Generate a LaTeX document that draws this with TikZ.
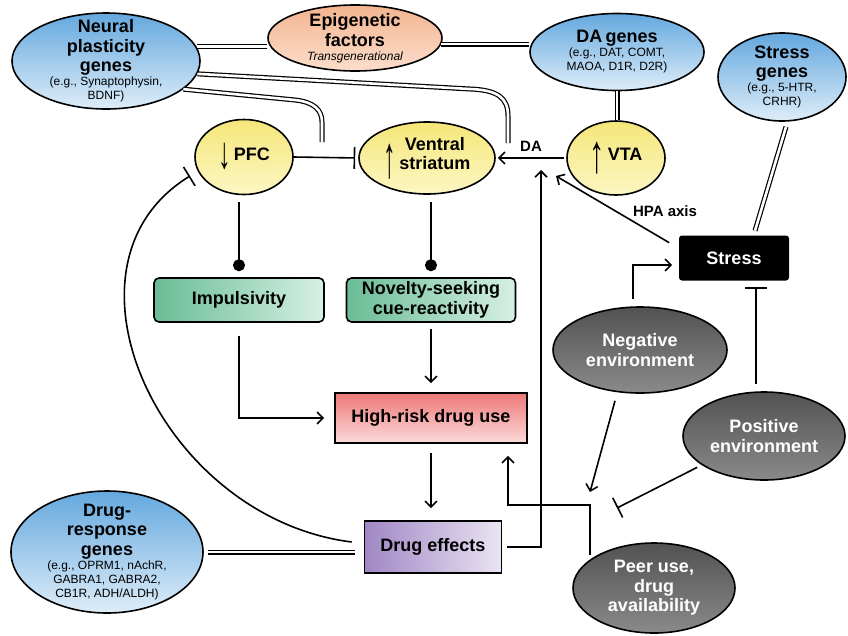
\documentclass[tikz,border=0pt]{standalone}
\usepackage{fontspec}
\usepackage{graphicx}
\setmainfont{Liberation Sans}
\usetikzlibrary{arrows.meta,shapes.geometric}

\newcommand{\titlefont}{\fontsize{18}{19.5}\selectfont\bfseries}
\newcommand{\examplefont}{\fontsize{12}{14}\selectfont\mdseries}
\newcommand{\labelfont}{\fontsize{15}{17}\selectfont\bfseries}
% tall thin arrow: glyph, horizontal scale, vertical scale, drop
\newcommand{\thinarrow}[4]{\raisebox{-#4}{\scalebox{#2}[#3]{\mdseries #1}}}

\definecolor{geneDark}{RGB}{100,168,222}
\definecolor{geneLight}{RGB}{222,237,249}
\definecolor{epiDark}{RGB}{243,180,144}
\definecolor{epiLight}{RGB}{252,222,204}
\definecolor{brainDark}{RGB}{245,230,120}
\definecolor{brainLight}{RGB}{252,247,196}
\definecolor{traitDark}{RGB}{105,188,150}
\definecolor{traitLight}{RGB}{214,240,228}
\definecolor{riskDark}{RGB}{238,120,120}
\definecolor{riskLight}{RGB}{252,218,218}
\definecolor{effDark}{RGB}{160,135,196}
\definecolor{effLight}{RGB}{234,228,243}
\definecolor{envDark}{RGB}{82,82,82}
\definecolor{envLight}{RGB}{138,138,138}

\begin{document}
\begin{tikzpicture}[x=1pt, y=-1pt, line width=1.6pt,
  gene/.style={ellipse, draw, line width=1.6pt, top color=geneDark, bottom color=geneLight,
    inner sep=-25pt, text width=140pt, align=center},
  brain/.style={ellipse, draw, line width=1.6pt, top color=brainDark, bottom color=brainLight,
    inner sep=0pt, font=\titlefont},
  trait/.style={draw, rounded corners=5pt, left color=traitDark, right color=traitLight,
    minimum width=170pt, minimum height=44pt, font=\titlefont, align=center},
  envir/.style={ellipse, draw, line width=1.6pt, top color=envDark, bottom color=envLight,
    text=white, font=\titlefont, align=center, inner sep=0pt},
  dbl/.style={double, double distance=2.6pt, line width=1.2pt},
  act/.style={-{Straight Barb[length=6pt,width=12pt]}},
  inh/.style={-{Bar[width=22pt]}},
  dotend/.style={-{Circle[length=12pt]}},
  lbl/.style={font=\labelfont, inner sep=1pt}]
  \useasboundingbox (0,0) rectangle (848,635);

  % genes
  \node[gene, minimum width=188pt, minimum height=96pt] (neural) at (106,61)
    {{\titlefont Neural\\plasticity\\genes\par}{\examplefont (e.g., Synaptophysin,\\BDNF)\par}};
  \node[gene, top color=epiDark, bottom color=epiLight, minimum width=174pt, minimum height=66pt] (epi) at (355,38)
    {{\titlefont Epigenetic\\factors\par}{\examplefont\itshape Transgenerational\par}};
  \node[gene, minimum width=174pt, minimum height=77pt] (dagenes) at (617,52)
    {{\titlefont DA genes\par}{\examplefont (e.g., DAT, COMT,\\MAOA, D1R, D2R)\par}};
  \node[gene, text width=110pt, minimum width=128pt, minimum height=88pt] (stressg) at (782,77)
    {{\titlefont Stress\\genes\par}{\examplefont (e.g., 5-HTR,\\CRHR)\par}};
  \node[gene, minimum width=192pt, minimum height=122pt] (drugresp) at (107,552)
    {{\titlefont Drug-\\response\\genes\par}{\examplefont (e.g., OPRM1, nAchR,\\GABRA1, GABRA2,\\CB1R, ADH/ALDH)\par}};

  % brain regions
  \node[brain, minimum width=98pt, minimum height=75pt] (pfc) at (244,157)
    {\thinarrow{↓}{1.4}{2.5}{8pt}\,PFC};
  \node[brain, minimum width=136pt, minimum height=72pt] (vs) at (427,158)
    {\thinarrow{↑}{1.4}{3.3}{17pt}\,\begin{tabular}{@{}c@{}}Ventral\\striatum\end{tabular}};
  \node[brain, minimum width=98pt, minimum height=74pt] (vta) at (616,158)
    {\thinarrow{↑}{1.7}{3.0}{12pt}\,VTA};

  % traits and use
  \node[trait] (impuls) at (239,300) {Impulsivity};
  \node[trait, minimum width=169pt] (novelty) at (431,300) {Novelty-seeking\\cue-reactivity};
  \node[draw, top color=riskDark, bottom color=riskLight, minimum width=192pt, minimum height=50pt,
    font=\titlefont] (risk) at (431,418) {High-risk drug use};
  \node[draw, left color=effDark, right color=effLight, minimum width=137pt, minimum height=52pt,
    font=\titlefont] (drugeff) at (433,547) {Drug effects};

  % environment
  \node[fill=black, rounded corners=3pt, minimum width=110pt, minimum height=45pt, text=white,
    font=\titlefont] (stress) at (734,258) {Stress};
  \node[envir, minimum width=174pt, minimum height=86pt] (neg) at (640,350) {Negative\\environment};
  \node[envir, minimum width=162pt, minimum height=88pt] (pos) at (764,436) {Positive\\environment};
  \node[envir, minimum width=162pt, minimum height=90pt] (peer) at (654,588) {Peer use,\\drug\\availability};

  \coordinate (vsgene) at (508,143);
  \coordinate (pfcgene) at (322,142);
  \coordinate (vsentry) at (541,170);
  \coordinate (hpaend) at (556,176);
  \coordinate (junction) at (590,492);
  \coordinate (posbar) at (617,508);
  \coordinate (peertop) at (590,555);
  \coordinate (pfcbar) at (190,176);

  % gene links
  \draw[dbl] (neural.9) -- (neural.9 -| epi.west);
  \draw[dbl] (epi.-4) -- (epi.-4 -| dagenes.west);
  \draw[dbl] (dagenes.south) -- (dagenes.south |- vta.north);
  \draw[dbl] ([xshift=4pt,yshift=-5pt]stressg.south) -- ([xshift=21pt,yshift=4pt]stress.north);
  \draw[dbl, shorten <=4pt, shorten >=9pt] (drugresp.east) -- (drugresp.east -| drugeff.west);
  \draw[dbl] (neural.-8) -- (470,89) .. controls (498,90) and (508,98) .. (508,116) -- (vsgene);
  \draw[dbl] (neural.-20) -- (295,100) .. controls (314,102) and (322,110) .. (322,122) -- (pfcgene);

  % circuit
  \draw[inh, shorten >=3pt] (pfc.east) -- (vs.west);
  \draw[act, shorten <=2pt, shorten >=2pt] (vta.west) -- (vs.east) node[midway, above=5pt, lbl] {DA};
  \draw[dotend, shorten <=7pt, shorten >=6pt] (impuls.north |- pfc.south) -- (impuls.north);
  \draw[dotend, shorten <=7pt, shorten >=6pt] (novelty.north |- vs.south) -- (novelty.north);
  \draw[act, shorten <=13pt, shorten >=10pt] (impuls.south) |- (risk.west);
  \draw[act, shorten <=6pt, shorten >=9pt] (novelty.south) -- (novelty.south |- risk.north);
  \draw[act, shorten <=9pt, shorten >=12pt] (risk.south) -- (risk.south |- drugeff.north);
  \draw[act] ([xshift=5pt]drugeff.east) -| (vsentry);
  \draw[inh] ([xshift=-12pt,yshift=5pt]drugeff.west) .. controls (160,518) and (45,265) .. (pfcbar);

  % stress and environment
  \draw[act] ([xshift=-9pt,yshift=-8pt]stress.north west) -- (hpaend);
  \node[lbl] (hpa) at (665,211) {HPA axis};
  \draw[act] ([xshift=-7pt,yshift=7pt]neg.north) |- ([xshift=-6pt,yshift=-7pt]stress.west);
  \draw[inh] ([xshift=-8pt,yshift=7pt]pos.north) -- ([xshift=22pt,yshift=-6pt]stress.south);
  \draw[act] ([xshift=-25pt,yshift=-7pt]neg.south) -- (junction);
  \draw[inh, shorten <=5pt] (pos.205) -- (posbar);
  \draw[act] (peertop) -- ++(0,-50) -| ([xshift=77pt,yshift=-12pt]risk.south);
\end{tikzpicture}
\end{document}
